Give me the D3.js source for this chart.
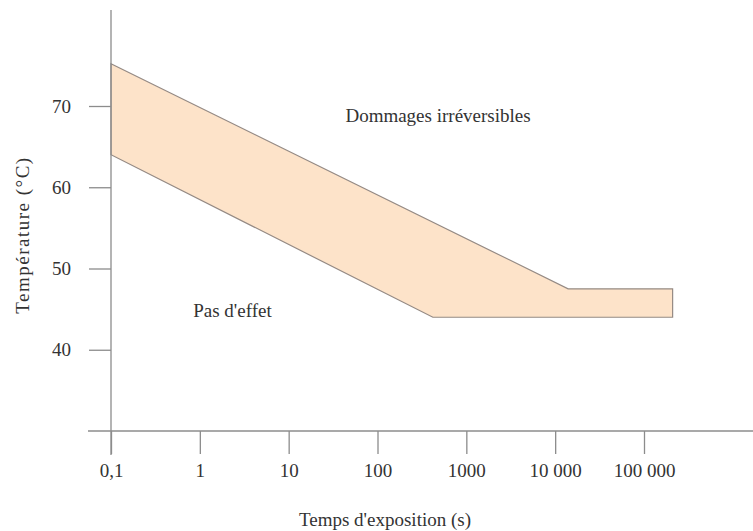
<!DOCTYPE html>
<html>
<head>
<meta charset="utf-8">
<script src="https://cdn.jsdelivr.net/npm/d3@7"></script>
<style>
html,body{margin:0;padding:0;background:#fff;}
svg text{font-family:"Liberation Serif","DejaVu Serif",serif;fill:#333;}
</style>
</head>
<body>
<svg id="chart" width="753" height="531"></svg>
<script>
// Data
const xTicks = [0.1, 1, 10, 100, 1000, 10000, 100000];
const xTickLabels = ["0,1", "1", "10", "100", "1000", "10 000", "100 000"];
const yTicks = [40, 50, 60, 70];
// band boundary (time in s, temperature in °C)
const upperTime = [0.1, 14000, 210000];
const upperTemp = [75.2, 47.5, 47.5];
const lowerTime = [0.1, 420, 210000];
const lowerTemp = [64, 44, 44];
const labels = [
  {text: "Dommages irréversibles", t: 480, T: 68.0},
  {text: "Pas d'effet", t: 2.33, T: 44.03}
];

const FS = 19;
const svg = d3.select("#chart");
const x = d3.scaleLog().domain([0.1, 100000]).range([111, 644]);
const y = d3.scaleLinear().domain([30, 70]).range([431, 106]);

// band
const pts = upperTime.map((t,i)=>[t, upperTemp[i]])
  .concat(lowerTime.map((t,i)=>[t, lowerTemp[i]]).reverse());
svg.append("path")
  .attr("d", d3.line().x(d=>x(d[0])).y(d=>y(d[1]))(pts) + "Z")
  .attr("fill", "#fde3c9")
  .attr("stroke", "#958a84")
  .attr("stroke-width", 1.2);

// y axis
const yAxis = d3.axisLeft(y).tickValues(yTicks).tickSize(22).tickPadding(18)
  .tickFormat(d3.format("d"));
const gy = svg.append("g").attr("transform", "translate(111,0)").call(yAxis);
gy.select(".domain").remove();
gy.append("line").attr("x1",0).attr("x2",0).attr("y1",10).attr("y2",455);
gy.selectAll("line").attr("stroke", "#8c8c8c").attr("stroke-width", 1.3);
gy.selectAll("text").attr("font-size", FS).attr("fill", "#333")
  .attr("font-family", "Liberation Serif, serif");

// x axis
const xAxis = d3.axisBottom(x).tickValues(xTicks).tickSize(23).tickPadding(10)
  .tickFormat((d,i)=>xTickLabels[i]);
const gx = svg.append("g").attr("transform", "translate(0,431)").call(xAxis);
gx.select(".domain").remove();
gx.append("line").attr("x1",88).attr("x2",753).attr("y1",0).attr("y2",0);
gx.selectAll("line").attr("stroke", "#8c8c8c").attr("stroke-width", 1.3);
gx.selectAll("text").attr("font-size", FS).attr("fill", "#333")
  .attr("font-family", "Liberation Serif, serif");

// titles
svg.append("text").attr("x", 385).attr("y", 526).attr("text-anchor","middle")
  .attr("font-size", FS).text("Temps d'exposition (s)");
svg.append("text").attr("transform", "translate(29,235) rotate(-90)")
  .attr("text-anchor","middle").attr("font-size", FS)
  .attr("letter-spacing", 1.5).text("Température (°C)");

// region labels
svg.selectAll(".lbl").data(labels).enter().append("text")
  .attr("class","lbl")
  .attr("x", d=>x(d.t)).attr("y", d=>y(d.T))
  .attr("text-anchor","middle").attr("font-size", FS)
  .text(d=>d.text);
</script>
</body>
</html>
